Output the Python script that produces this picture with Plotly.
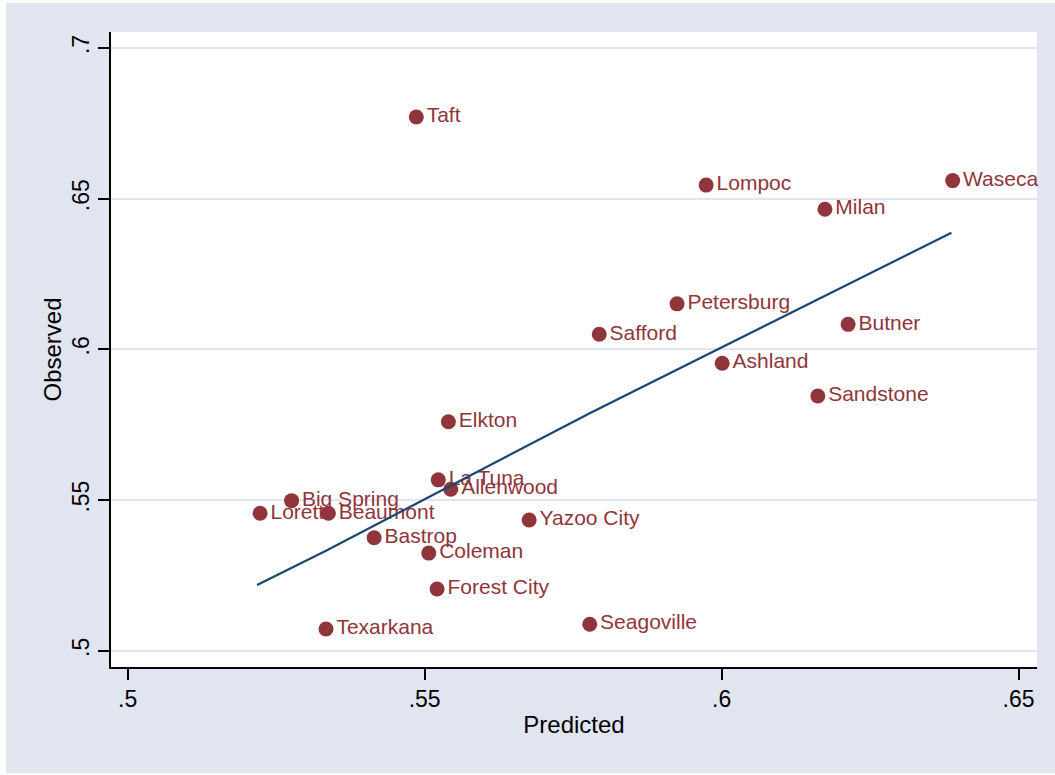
import plotly.graph_objects as go

# Facility-level rates: model prediction vs observed
names = ["Taft", "Lompoc", "Waseca", "Milan", "Petersburg", "Butner", "Safford",
         "Ashland", "Sandstone", "Elkton", "La Tuna", "Allenwood", "Big Spring",
         "Loretto", "Beaumont", "Yazoo City", "Bastrop", "Coleman", "Forest City",
         "Seagoville", "Texarkana"]
predicted = [0.5486, 0.5974, 0.6389, 0.6174, 0.5925, 0.6213, 0.5794,
             0.6001, 0.6162, 0.5540, 0.5523, 0.5544, 0.5276,
             0.5223, 0.5338, 0.5676, 0.5415, 0.5507, 0.5521,
             0.5778, 0.5334]
observed = [0.6771, 0.6545, 0.6560, 0.6465, 0.6151, 0.6083, 0.6050,
            0.5954, 0.5845, 0.5760, 0.5567, 0.5536, 0.5498,
            0.5456, 0.5456, 0.5434, 0.5375, 0.5324, 0.5205,
            0.5088, 0.5072]

# Fitted values along the predicted range
fit_x = [0.5218, 0.5334, 0.5778, 0.6166, 0.6387]
fit_y = [0.5218, 0.5332, 0.5788, 0.6169, 0.6387]

x_ticks = [0.5, 0.55, 0.6, 0.65]
x_labels = [".5", ".55", ".6", ".65"]
y_ticks = [0.5, 0.55, 0.6, 0.65, 0.7]
y_labels = [".5", ".55", ".6", ".65", ".7"]

MAROON = "#90353b"
NAVY = "#1a476f"
BG = "#e0e5ef"
FONT = "Liberation Sans, Arial, sans-serif"

fig = go.Figure()

# one trace per facility so later dots sit over earlier labels
for nm, px_, ob in zip(names, predicted, observed):
    fig.add_trace(go.Scatter(
        x=[px_], y=[ob], mode="markers+text", text=[nm],
        textposition="middle right",
        textfont=dict(family=FONT, size=21, color=MAROON),
        marker=dict(size=15, color=MAROON),
        cliponaxis=False,
        showlegend=False, hoverinfo="text+x+y",
    ))

fig.add_trace(go.Scatter(
    x=fit_x, y=fit_y, mode="lines",
    line=dict(color=NAVY, width=2.2),
    showlegend=False, hoverinfo="skip",
))

W, H = 1055, 775
ml, mr, mt, mb = 111, 18, 32, 108
pw, ph = W - ml - mr, H - mt - mb

# outer panel and white plot region
fig.add_shape(type="rect", xref="paper", yref="paper", layer="below",
              x0=(6 - ml) / pw, x1=(W - ml) / pw,
              y0=-(H - 2 - (H - mb)) / ph, y1=((H - mb) - 3) / ph,
              fillcolor=BG, line=dict(width=0))
fig.add_shape(type="rect", xref="paper", yref="paper", layer="below",
              x0=0, x1=1, y0=0, y1=1,
              fillcolor="white", line=dict(width=0))

fig.update_layout(
    width=W, height=H,
    margin=dict(l=ml, r=mr, t=mt, b=mb),
    paper_bgcolor="white", plot_bgcolor="white",
    font=dict(family=FONT, color="black"),
)

fig.update_xaxes(
    range=[0.4972, 0.6531], tickvals=x_ticks, ticktext=x_labels,
    showgrid=False, zeroline=False,
    showline=True, linecolor="black", linewidth=1.5,
    ticks="outside", ticklen=11, tickwidth=1.5, tickcolor="black",
    tickfont=dict(family=FONT, size=23),
    title=dict(text="Predicted", font=dict(family=FONT, size=24), standoff=5),
)
fig.update_yaxes(
    range=[0.4946, 0.7053], tickvals=y_ticks, ticktext=y_labels,
    showgrid=True, gridcolor=BG, gridwidth=2, zeroline=False,
    showline=True, linecolor="black", linewidth=1.5,
    ticks="outside", ticklen=11, tickwidth=1.5, tickcolor="black",
    tickangle=-90,
    tickfont=dict(family=FONT, size=23),
    title=dict(text="Observed", font=dict(family=FONT, size=24), standoff=0),
)

fig.write_html("out.html")
